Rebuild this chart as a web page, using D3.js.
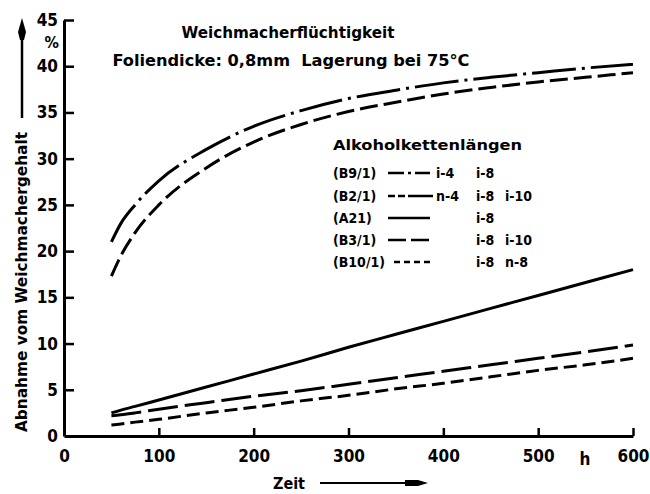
<!DOCTYPE html>
<html>
<head>
<meta charset="utf-8">
<script src="https://cdn.jsdelivr.net/npm/d3@7"></script>
<style>
  body { margin: 0; background: #fff; }
  text { font-family: "DejaVu Sans Condensed", "DejaVu Sans", sans-serif; font-weight: bold; fill: #000; }
</style>
</head>
<body>
<div id="chart"></div>
<script>
// hours
var hours = [50, 60, 75, 100, 150, 200, 250, 300, 350, 400, 450, 500, 550, 600];

var seriesNames = ["(B9/1)", "(B2/1)", "(A21)", "(B3/1)", "(B10/1)"];
var chainCol1 = ["i-4", "n-4", "", "", ""];
var chainCol2 = ["i-8", "i-8", "i-8", "i-8", "i-8"];
var chainCol3 = ["", "i-10", "", "i-10", "n-8"];

// Abnahme vom Weichmachergehalt (%)
var b9 = [21, 23, 25, 27.6, 31, 33.5, 35.2, 36.5, 37.4, 38.2, 38.8, 39.3, 39.8, 40.2];
var b2 = [17.3, 19.5, 22, 25, 29, 31.8, 33.7, 35.1, 36.1, 37, 37.7, 38.3, 38.8, 39.3];
var a21 = [2.5, 2.8, 3.2, 3.9, 5.3, 6.7, 8.1, 9.6, 11, 12.4, 13.8, 15.2, 16.6, 18];
var b3 = [2.2, 2.3, 2.5, 2.9, 3.6, 4.3, 4.9, 5.6, 6.3, 7.0, 7.7, 8.4, 9.1, 9.85];
var b10 = [1.2, 1.3, 1.5, 1.8, 2.5, 3.1, 3.8, 4.4, 5.1, 5.7, 6.4, 7.1, 7.7, 8.4];

var xTicks = [0, 100, 200, 300, 400, 500, 600];
var yTicks = [0, 5, 10, 15, 20, 25, 30, 35, 40, 45];

var seriesData = [b9, b2, a21, b3, b10];
var dashes = ["44,6,3,6", "18,6", null, "30,7", "13,6"];
var legendDashes = ["16,4,3,4", "7,3,7,3,30", null, "18,5", "6,4"];

var svgWidth = 650;
var svgHeight = 494;

var svg = d3.select("#chart")
  .append("svg")
  .attr("width", svgWidth)
  .attr("height", svgHeight);

var xScale = d3.scaleLinear().domain([0, 600]).range([64, 633]);
var yScale = d3.scaleLinear().domain([0, 45]).range([436, 20]);

// axes
var bottomAxis = d3.axisBottom(xScale)
  .tickValues(xTicks)
  .tickSizeInner(-8)
  .tickSizeOuter(0)
  .tickPadding(14);

var leftAxis = d3.axisLeft(yScale)
  .tickValues(yTicks)
  .tickSizeInner(-10)
  .tickSizeOuter(0)
  .tickPadding(6);

var gx = svg.append("g")
  .attr("transform", `translate(0, ${yScale(0)})`)
  .call(bottomAxis);

var gy = svg.append("g")
  .attr("transform", `translate(${xScale(0)}, 0)`)
  .call(leftAxis);

[gx, gy].forEach(function (g) {
  g.select(".domain").attr("stroke", "#000").attr("stroke-width", 3);
  g.selectAll(".tick line").attr("stroke", "#000").attr("stroke-width", 2.5);
  g.selectAll(".tick text")
    .attr("font-size", "17px")
    .attr("font-family", "'DejaVu Sans Condensed', 'DejaVu Sans', sans-serif")
    .attr("font-weight", "bold")
    .attr("fill", "#000");
});
gx.selectAll(".tick").filter(d => d === 0).select("line").remove();
gy.selectAll(".tick").filter(d => d === 0).select("line").remove();

// units
svg.append("text")
  .attr("x", 59).attr("y", 48)
  .attr("text-anchor", "end")
  .attr("font-size", "16px")
  .text("%");

svg.append("text")
  .attr("x", 585).attr("y", yScale(0) + 29)
  .attr("text-anchor", "middle")
  .attr("font-size", "17px")
  .text("h");

// curves
var line = d3.line()
  .x((d, i) => xScale(hours[i]))
  .y(d => yScale(d))
  .curve(d3.curveMonotoneX);

svg.selectAll(".curve")
  .data(seriesData)
  .enter()
  .append("path")
  .attr("class", "curve")
  .attr("d", line)
  .attr("fill", "none")
  .attr("stroke", "#000")
  .attr("stroke-width", 3)
  .attr("stroke-dasharray", (d, i) => dashes[i]);

// titles
svg.append("text")
  .attr("x", 288).attr("y", 38)
  .attr("text-anchor", "middle")
  .attr("font-size", "15px")
  .attr("textLength", 213)
  .attr("lengthAdjust", "spacingAndGlyphs")
  .text("Weichmacherflüchtigkeit");

svg.append("text")
  .attr("x", 291).attr("y", 66)
  .attr("text-anchor", "middle")
  .attr("font-size", "15px")
  .attr("textLength", 357)
  .attr("lengthAdjust", "spacingAndGlyphs")
  .text("Foliendicke: 0,8mm\u00a0\u00a0Lagerung bei 75°C");

// legend
svg.append("text")
  .attr("x", 333).attr("y", 150)
  .attr("font-size", "14px")
  .attr("textLength", 189)
  .attr("lengthAdjust", "spacingAndGlyphs")
  .text("Alkoholkettenlängen");

var rowY = [173, 196, 218, 240, 262];
var legend = svg.selectAll(".legend")
  .data(seriesNames)
  .enter()
  .append("g")
  .attr("class", "legend")
  .attr("transform", (d, i) => `translate(0, ${rowY[i]})`);

legend.append("text")
  .attr("x", 333).attr("y", 5)
  .attr("font-size", "14px")
  .text(d => d);

legend.append("line")
  .attr("x1", (d, i) => i === 4 ? 394 : 388)
  .attr("x2", (d, i) => i === 1 ? 433 : 430)
  .attr("y1", 0).attr("y2", 0)
  .attr("stroke", "#000")
  .attr("stroke-width", 2.5)
  .attr("stroke-dasharray", (d, i) => legendDashes[i]);

legend.append("text")
  .attr("x", 436).attr("y", 5)
  .attr("font-size", "14px")
  .text((d, i) => chainCol1[i]);

legend.append("text")
  .attr("x", 476).attr("y", 5)
  .attr("font-size", "14px")
  .text((d, i) => chainCol2[i]);

legend.append("text")
  .attr("x", 505).attr("y", 5)
  .attr("font-size", "14px")
  .text((d, i) => chainCol3[i]);

// axis titles
svg.append("text")
  .attr("transform", "translate(27, 282) rotate(-90)")
  .attr("text-anchor", "middle")
  .attr("font-size", "15px")
  .attr("textLength", 300)
  .attr("lengthAdjust", "spacingAndGlyphs")
  .text("Abnahme vom Weichmachergehalt");

svg.append("line")
  .attr("x1", 22).attr("x2", 22)
  .attr("y1", 118).attr("y2", 26)
  .attr("stroke", "#000").attr("stroke-width", 2.5);
svg.append("path")
  .attr("d", "M22,18 L26,32 L24,40 L20,40 L18,32 Z")
  .attr("fill", "#000");

svg.append("text")
  .attr("x", 289).attr("y", 489)
  .attr("text-anchor", "middle")
  .attr("font-size", "16px")
  .text("Zeit");

svg.append("line")
  .attr("x1", 320).attr("x2", 420)
  .attr("y1", 483).attr("y2", 483)
  .attr("stroke", "#000").attr("stroke-width", 2);
svg.append("path")
  .attr("d", "M405,480 L418,480 L428,483 L418,486 L405,486 Z")
  .attr("fill", "#000");
</script>
</body>
</html>
